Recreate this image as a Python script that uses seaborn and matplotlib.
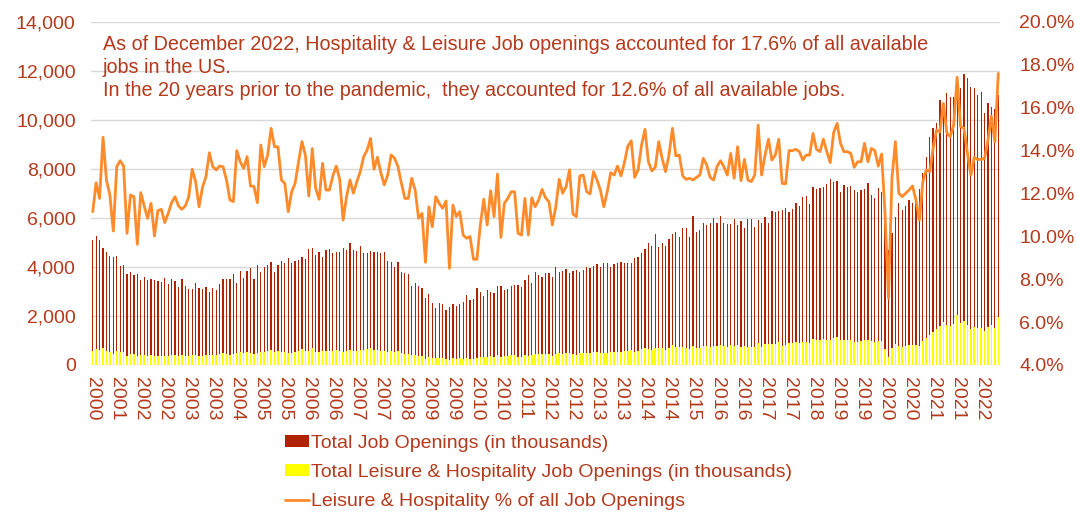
"""
Job openings: total vs. Leisure & Hospitality (JOLTS, Dec 2000 - Dec 2022)
"""

import numpy as np
import pandas as pd
import matplotlib
matplotlib.use('Agg')
import matplotlib.pyplot as plt
import seaborn as sns
from matplotlib.patches import Patch
from matplotlib.lines import Line2D
from matplotlib.ticker import FuncFormatter, FixedLocator

sns.set_theme(style='white')
plt.rcParams['font.family'] = ['Liberation Sans', 'DejaVu Sans']

# ── colours ──────────────────────────────────────────────────────────────────
TEXT_COLOR = '#B5391B'
RED = '#B02200'
YELLOW = '#FFFF00'
ORANGE = '#FF8A2A'
GRID = '#D9D9D9'

# ── data (thousands / percent), monthly from Dec 2000 ───────────────────────
first_month = '2000-12'

total_openings = [
    5100,
    5270, 5100, 4790, 4630, 4460, 4400, 4450, 4030, 4080, 3720, 3780, 3670,   # 2001
    3720, 3470, 3610, 3470, 3510, 3470, 3430, 3370, 3540, 3310, 3510, 3440,   # 2002
    3170, 3510, 3230, 3100, 3100, 3330, 3160, 3100, 3170, 2970, 3160, 3060,   # 2003
    3320, 3510, 3510, 3510, 3710, 3330, 3840, 3540, 3840, 3970, 3500, 4080,   # 2004
    3810, 4010, 4080, 4190, 3810, 4080, 4260, 4150, 4370, 4180, 4260, 4290,   # 2005
    4420, 4310, 4740, 4790, 4490, 4630, 4420, 4690, 4740, 4590, 4630, 4630,   # 2006
    4790, 4690, 4970, 4690, 4650, 4860, 4590, 4560, 4650, 4630, 4630, 4560,   # 2007
    4630, 4260, 4220, 4010, 4190, 3810, 3740, 3720, 3230, 3360, 3230, 3130,   # 2008
    2720, 2900, 2550, 2310, 2550, 2490, 2250, 2350, 2490, 2420, 2490, 2570,   # 2009
    2860, 2650, 2690, 3130, 2990, 2820, 3060, 2990, 2930, 3230, 3230, 3060,   # 2010
    3100, 3230, 3270, 3270, 3170, 3470, 3670, 3330, 3810, 3670, 3580, 3770,   # 2011
    3770, 3580, 3990, 3810, 3850, 3900, 3770, 3850, 3880, 3810, 3880, 4010,   # 2012
    3950, 4040, 4120, 4010, 4150, 4150, 3990, 4120, 4150, 4220, 4150, 4150,   # 2013
    4150, 4350, 4420, 4560, 4720, 4970, 4860, 5350, 4830, 4990, 4860, 5130,   # 2014
    5350, 5440, 5210, 5580, 5580, 5240, 6080, 5440, 5510, 5810, 5720, 5810,   # 2015
    5990, 5780, 6080, 5780, 5760, 5740, 5950, 5720, 5880, 5610, 5950, 5950,   # 2016
    5620, 5920, 5810, 6060, 5810, 6300, 6260, 6300, 6330, 6400, 6260, 6350,   # 2017
    6600, 6490, 6840, 6900, 6570, 7250, 7170, 7210, 7280, 7380, 7580, 7480,   # 2018
    7520, 7080, 7350, 7250, 7310, 7140, 7080, 7140, 7170, 7420, 6940, 6800,   # 2019
    7210, 7080, 6000, 4700, 5400, 6060, 6600, 6330, 6490, 6740, 6600, 6800,   # 2020
    7200, 7850, 8480, 9290, 9660, 9870, 10820, 10710, 11090, 10930, 10930, 11800,  # 2021
    11290, 11880, 11700, 11360, 11290, 11020, 11160, 10270, 10680, 10520, 10440, 11000,  # 2022
]

leisure_openings = [
    570,
    660, 600, 700, 580, 530, 450, 590, 550, 540, 380, 450, 430,   # 2001
    360, 420, 410, 380, 410, 350, 380, 380, 380, 370, 410, 410,   # 2002
    360, 400, 370, 370, 410, 420, 360, 380, 410, 410, 420, 400,   # 2003
    440, 470, 440, 410, 430, 470, 520, 470, 530, 490, 430, 470,   # 2004
    540, 530, 560, 630, 540, 580, 540, 520, 490, 500, 530, 580,   # 2005
    640, 590, 560, 680, 550, 540, 590, 570, 580, 590, 610, 590,   # 2006
    520, 560, 630, 560, 580, 630, 630, 640, 680, 610, 630, 590,   # 2007
    570, 550, 580, 550, 560, 480, 440, 440, 410, 410, 350, 350,   # 2008
    240, 330, 270, 270, 290, 280, 260, 200, 290, 260, 280, 260,   # 2009
    280, 260, 240, 280, 310, 330, 320, 360, 320, 420, 320, 350,   # 2010
    360, 390, 400, 330, 320, 410, 370, 390, 430, 430, 440, 440,   # 2011
    440, 380, 450, 480, 460, 480, 490, 430, 420, 490, 500, 480,   # 2012
    470, 530, 520, 490, 470, 500, 520, 530, 550, 540, 560, 590,   # 2013
    600, 550, 580, 650, 710, 670, 630, 710, 700, 680, 630, 710,   # 2014
    800, 750, 720, 720, 710, 670, 770, 690, 710, 790, 760, 740,   # 2015
    760, 770, 820, 770, 740, 800, 760, 810, 740, 760, 750, 750,   # 2016
    720, 900, 750, 840, 840, 850, 860, 920, 790, 800, 880, 890,   # 2017
    930, 910, 930, 950, 910, 1070, 1010, 1010, 1060, 1030, 1020, 1110,   # 2018
    1150, 1020, 1030, 1010, 1010, 940, 950, 960, 1030, 1000, 980, 950,   # 2019
    960, 980, 660, 330, 690, 870, 790, 750, 780, 820, 820, 800,   # 2020
    770, 990, 1110, 1210, 1360, 1480, 1610, 1740, 1640, 1600, 1660, 2060,   # 2021
    1710, 1790, 1630, 1460, 1550, 1500, 1520, 1400, 1550, 1640, 1500, 1940,   # 2022
]

leisure_share_pct = [
    11.15,
    12.50, 11.77, 14.62, 12.63, 11.93, 10.25, 13.25, 13.53, 13.28, 10.14, 11.93, 11.85,   # 2001
    9.63, 12.04, 11.42, 10.84, 11.54, 10.02, 11.20, 11.26, 10.64, 11.07, 11.57, 11.85,    # 2002
    11.42, 11.26, 11.42, 11.85, 13.13, 12.55, 11.38, 12.29, 12.78, 13.90, 13.25, 13.10,   # 2003
    13.28, 13.25, 12.63, 11.70, 11.62, 14.00, 13.48, 13.17, 13.72, 12.35, 12.33, 11.57,   # 2004
    14.26, 13.25, 13.79, 15.04, 14.18, 14.18, 12.63, 12.47, 11.15, 12.08, 12.47, 13.48,   # 2005
    14.42, 13.79, 11.88, 14.10, 12.24, 11.73, 13.41, 12.16, 12.16, 12.82, 13.28, 12.66,   # 2006
    10.76, 11.85, 12.63, 12.01, 12.55, 13.02, 13.72, 14.03, 14.57, 13.13, 13.69, 12.97,   # 2007
    12.40, 12.86, 13.80, 13.64, 13.25, 12.47, 11.77, 11.77, 12.71, 12.16, 10.84, 11.07,   # 2008
    8.79, 11.38, 10.45, 11.85, 11.54, 11.31, 11.65, 8.51, 11.46, 10.92, 11.15, 10.06,     # 2009
    9.91, 9.99, 8.93, 8.93, 10.53, 11.73, 10.53, 12.13, 10.92, 12.91, 9.95, 11.54,        # 2010
    11.77, 12.08, 12.08, 10.14, 10.06, 11.77, 10.06, 11.80, 11.38, 11.70, 12.19, 11.80,   # 2011
    11.62, 10.53, 11.38, 12.66, 12.01, 12.32, 13.10, 11.04, 10.92, 12.82, 12.86, 12.08,   # 2012
    11.98, 13.02, 12.63, 12.16, 11.38, 12.08, 12.97, 12.86, 13.28, 12.82, 13.44, 14.21,   # 2013
    14.46, 12.75, 13.10, 14.26, 14.99, 13.48, 13.05, 13.22, 14.42, 13.64, 13.02, 13.79,   # 2014
    15.04, 13.75, 13.79, 12.82, 12.66, 12.71, 12.63, 12.75, 12.86, 13.64, 13.33, 12.75,   # 2015
    12.63, 13.25, 13.53, 13.25, 12.86, 13.87, 12.71, 14.18, 12.60, 13.59, 12.63, 12.55,   # 2016
    12.86, 15.19, 12.86, 13.79, 14.53, 13.56, 13.79, 14.53, 12.47, 12.45, 14.00, 14.00,   # 2017
    14.06, 13.95, 13.56, 13.79, 13.79, 14.80, 14.06, 13.95, 14.53, 13.95, 13.44, 14.84,   # 2018
    15.27, 14.34, 13.95, 13.95, 13.87, 13.22, 13.48, 13.48, 14.34, 13.48, 14.10, 14.00,   # 2019
    13.28, 13.84, 11.00, 7.11, 12.71, 14.42, 12.01, 11.85, 12.01, 12.16, 12.35, 11.70,    # 2020
    10.76, 12.55, 13.10, 13.02, 14.10, 14.96, 14.88, 16.20, 14.83, 14.65, 15.19, 17.42,   # 2021
    15.12, 15.05, 13.90, 12.86, 13.69, 13.59, 13.59, 13.64, 14.49, 15.61, 14.41, 17.60,   # 2022
]

annotation = (
    'As of December 2022, Hospitality & Leisure Job openings accounted for 17.6% of all available\n'
    'jobs in the US.\n'
    'In the 20 years prior to the pandemic,  they accounted for 12.6% of all available jobs.'
)

legend_labels = [
    'Total Job Openings (in thousands)',
    'Total Leisure & Hospitality Job Openings (in thousands)',
    'Leisure & Hospitality % of all Job Openings',
]

# ── frame ───────────────────────────────────────────────────────────────────
months = pd.period_range(first_month, periods=len(total_openings), freq='M')
df = pd.DataFrame({
    'pos': np.arange(len(months)),
    'total': total_openings,
    'leisure': leisure_openings,
    'share': leisure_share_pct,
})

# ── figure ──────────────────────────────────────────────────────────────────
fig = plt.figure(figsize=(10.77, 5.15), dpi=100)
ax = fig.add_axes([0.0845, 0.2913, 0.844, 0.666])

sns.barplot(data=df, x='pos', y='total', native_scale=True, color=RED,
            saturation=1, width=0.36, linewidth=0, errorbar=None, ax=ax)
sns.barplot(data=df, x='pos', y='leisure', native_scale=True, color=YELLOW,
            saturation=1, width=0.45, linewidth=0, errorbar=None, ax=ax)

ax.set_xlim(-0.5, len(months) - 0.5)
ax.set_ylim(0, 14000)
ax.set_yticks(np.arange(0, 14001, 2000))
ax.yaxis.set_major_formatter(FuncFormatter(lambda v, p: f'{v:,.0f}'))
ax.yaxis.grid(True, color=GRID, linewidth=1)
ax.xaxis.grid(False)
ax.set_axisbelow(True)

tick_pos = list(range(0, len(months), 7))
ax.xaxis.set_major_locator(FixedLocator(tick_pos))
ax.set_xticklabels([str(months[i].year) for i in tick_pos])

ax.tick_params(axis='x', labelsize=14, labelcolor=TEXT_COLOR, rotation=-90,
               length=0, pad=9)
ax.tick_params(axis='y', labelsize=14, labelcolor=TEXT_COLOR, length=0, pad=11)
for lbl in ax.get_xticklabels():
    lbl.set_va('top')
    lbl.set_ha('center')
ax.set_xlabel('')
ax.set_ylabel('')
for s in ax.spines.values():
    s.set_visible(False)

# secondary axis — share line
ax2 = ax.twinx()
sns.lineplot(data=df, x='pos', y='share', color=ORANGE, linewidth=2.0, ax=ax2)
ax2.set_ylim(4, 20)
ax2.set_yticks(np.arange(4, 20.1, 2))
ax2.yaxis.set_major_formatter(FuncFormatter(lambda v, p: f'{v:.1f}%'))
ax2.tick_params(axis='y', labelsize=14, labelcolor=TEXT_COLOR, length=0, pad=14)
ax2.set_xlim(-0.5, len(months) - 0.5)
ax2.set_xlabel('')
ax2.set_ylabel('')
ax2.grid(False)
for s in ax2.spines.values():
    s.set_visible(False)

ax2.text(0.013, 0.962, annotation, transform=ax2.transAxes, fontsize=14.2,
         color=TEXT_COLOR, ha='left', va='top', linespacing=1.28)

# legend
handles = [
    Patch(facecolor=RED, edgecolor='none'),
    Patch(facecolor=YELLOW, edgecolor='none'),
    Line2D([0], [0], color=ORANGE, linewidth=2.0),
]
fig.legend(handles, legend_labels, loc='upper left',
           bbox_to_anchor=(285 / 1077, 1 - 435 / 515), frameon=False,
           fontsize=14, labelcolor=TEXT_COLOR, handlelength=1.25,
           handleheight=0.6, handletextpad=0.1, labelspacing=0.62,
           borderpad=0, borderaxespad=0)

fig.savefig('out.png', dpi=100)
